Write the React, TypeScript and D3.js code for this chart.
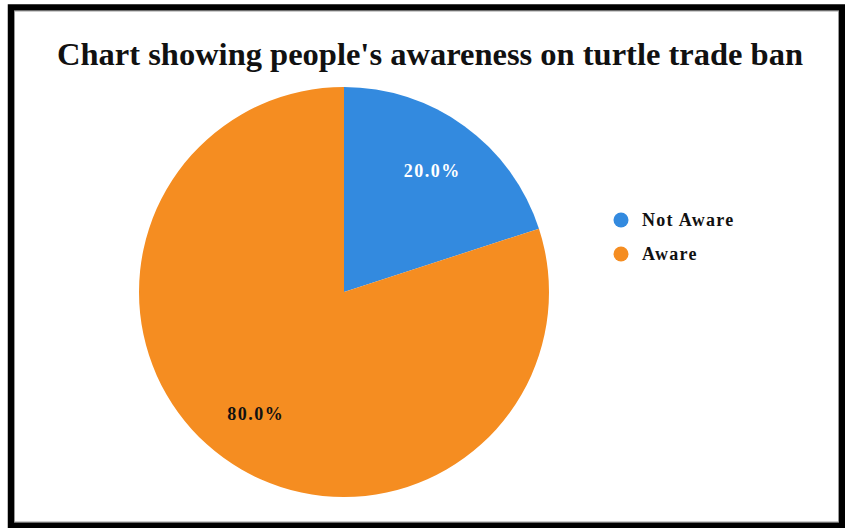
import React from "react";
import * as d3 from "d3";

const categories = ["Not Aware", "Aware"];
const values = [20, 80];
const colors = ["#338ADF", "#F58D21"];
const labelColors = ["#ffffff", "#111111"];

export default function App() {
  const W = 845, H = 528;
  const cx = 344, cy = 292, r = 205;
  const pie = d3.pie<number>().sort(null).value((d) => d);
  const arcs = pie(values);
  const arc = d3.arc<d3.PieArcDatum<number>>().innerRadius(0).outerRadius(r);
  const labelArc = d3.arc<d3.PieArcDatum<number>>().innerRadius(150).outerRadius(150);
  const total = d3.sum(values);
  const font = "'Liberation Serif', 'DejaVu Serif', serif";
  return (
    <svg width={W} height={H} style={{ position: "absolute", left: 0, top: 0 }}>
      <rect x={0} y={0} width={W} height={H} fill="#fff" />
      <rect x={11} y={7.5} width={831} height={518} fill="#fff" stroke="#000" strokeWidth={6.5} />
      <rect x={14.5} y={11} width={824} height={511} fill="none" stroke="#999" strokeWidth={1} />
      <text x={430} y={65} textAnchor="middle" fontFamily={font} fontWeight="bold" fontSize={32.5} fill="#111">
        Chart showing people's awareness on turtle trade ban
      </text>
      <g transform={`translate(${cx},${cy})`}>
        {arcs.map((a, i) => (
          <path key={i} d={arc(a) || ""} fill={colors[i]} />
        ))}
        {arcs.map((a, i) => {
          const [x, y] = labelArc.centroid(a);
          return (
            <text key={"l" + i} x={x} y={y} dy="0.35em" textAnchor="middle" fontFamily={font} fontWeight="bold" fontSize={18} letterSpacing={1.5} fill={labelColors[i]}>
              {((values[i] / total) * 100).toFixed(1)}%
            </text>
          );
        })}
      </g>
      {categories.map((c, i) => (
        <g key={c} transform={`translate(621,${220 + i * 34})`}>
          <circle r={7.5} fill={colors[i]} />
          <text x={21} dy="0.35em" fontFamily={font} fontWeight="bold" fontSize={18} letterSpacing={1.3} fill="#111">
            {c}
          </text>
        </g>
      ))}
    </svg>
  );
}
